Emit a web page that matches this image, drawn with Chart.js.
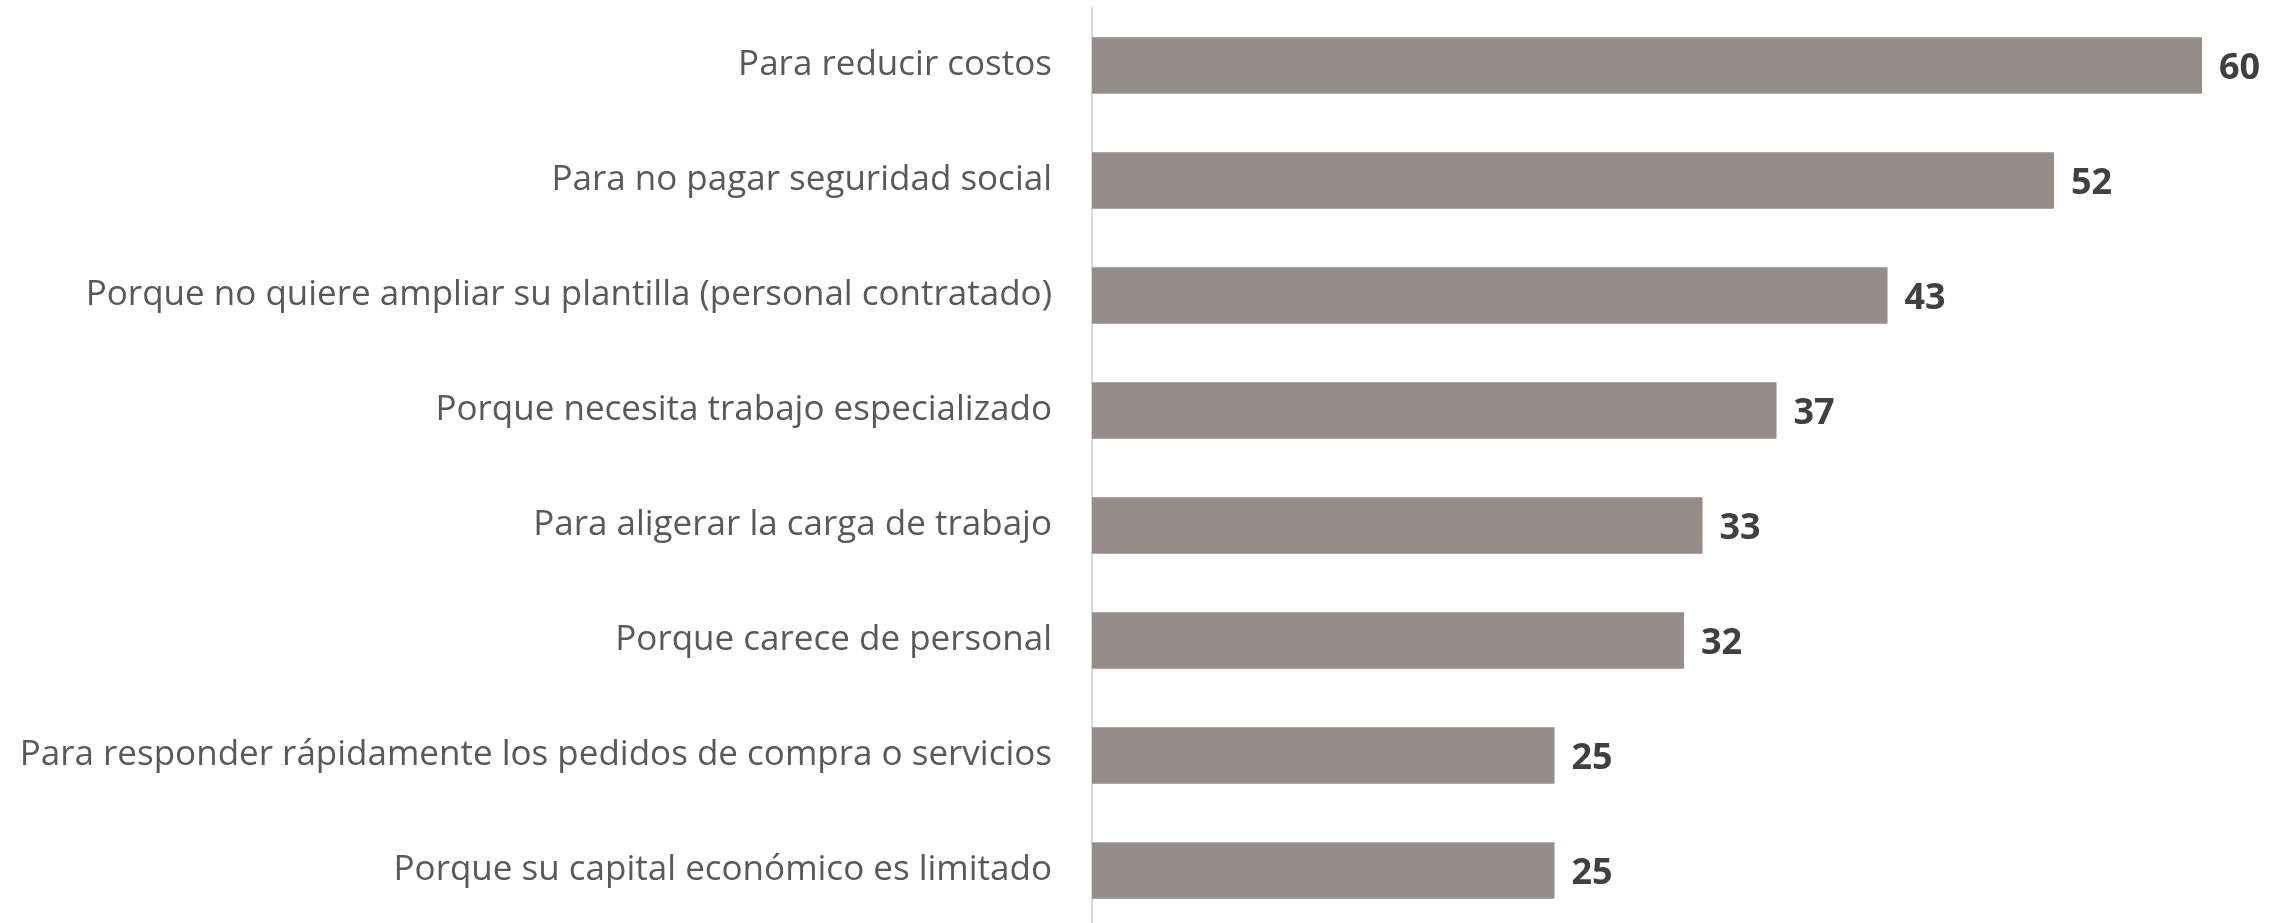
<!DOCTYPE html>
<html>
<head>
<meta charset="utf-8">
<script src="https://cdn.jsdelivr.net/npm/chart.js@4.4.1/dist/chart.umd.min.js"></script>
<style>
  html, body { margin: 0; padding: 0; background: #ffffff; overflow: hidden; }
  /* the plot runs a few pixels past the bottom edge, as in the original */
  #wrap { width: 2282px; height: 928px; position: relative; }
</style>
</head>
<body>
<div id="wrap"><canvas id="chart"></canvas></div>
<script>
var categories = [
  'Para reducir costos',
  'Para no pagar seguridad social',
  'Porque no quiere ampliar su plantilla (personal contratado)',
  'Porque necesita trabajo especializado',
  'Para aligerar la carga de trabajo',
  'Porque carece de personal',
  'Para responder rápidamente los pedidos de compra o servicios',
  'Porque su capital económico es limitado'
];
var values = [60, 52, 43, 37, 33, 32, 25, 25];

var FONT = "'Open Sans', 'Noto Sans', sans-serif";
var AXIS_LEFT = 1092;

// value labels drawn just past the end of each bar
var valueLabels = {
  id: 'valueLabels',
  afterDatasetsDraw: function (chart) {
    var ctx = chart.ctx;
    var meta = chart.getDatasetMeta(0);
    ctx.save();
    ctx.font = 'bold 36px ' + FONT;
    ctx.fillStyle = '#404040';
    ctx.textAlign = 'left';
    ctx.textBaseline = 'middle';
    meta.data.forEach(function (bar, i) {
      ctx.fillText(String(values[i]), bar.x + 17, bar.y + 3);
    });
    ctx.restore();
  }
};

Chart.defaults.font.family = FONT;
Chart.defaults.animation = false;

new Chart(document.getElementById('chart'), {
  type: 'bar',
  data: {
    labels: categories,
    datasets: [{
      data: values,
      backgroundColor: '#968c8a',
      borderWidth: 0,
      barPercentage: 0.49,
      categoryPercentage: 1
    }]
  },
  options: {
    indexAxis: 'y',
    responsive: true,
    maintainAspectRatio: false,
    layout: { padding: { top: 8, right: 6, bottom: 0, left: 0 } },
    plugins: { legend: { display: false }, tooltip: { enabled: false } },
    scales: {
      x: { display: false, min: 0, max: 64 },
      y: {
        grid: { display: false },
        border: { display: true, color: '#d9d9d9', width: 2 },
        ticks: { color: '#595959', padding: 32, font: { size: 35 } },
        afterFit: function (axis) {
          axis.width = AXIS_LEFT;
          axis.paddingTop = 0;
          axis.paddingBottom = 0;
        }
      }
    }
  },
  plugins: [valueLabels]
});
</script>
</body>
</html>
